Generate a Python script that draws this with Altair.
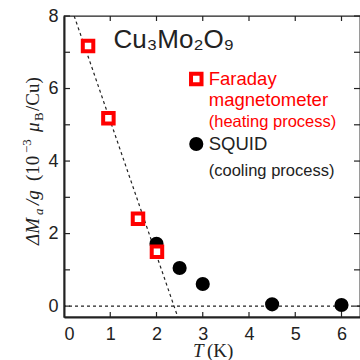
import altair as alt
import pandas as pd

# Data
far_T = [0.52, 0.96, 1.6, 2.01]
far_M = [7.17, 5.18, 2.41, 1.5]
sq_T = [2.0, 2.5, 3.0, 4.5, 6.0]
sq_M = [1.72, 1.05, 0.61, 0.05, 0.03]
fit_T = [0.22, 2.46]
fit_M = [8.0, -0.3]
x_ticks = [1, 2, 3, 4, 5, 6]
y_ticks = [0, 1, 2, 3, 4, 5, 6, 7, 8]

XD = [0, 6.4]
YD = [-0.3, 8]
W, H = 296, 301
RED = "#ff0000"
INK = "#222"
SANS = "Liberation Sans"
SERIF = "Liberation Serif"

xs = alt.Scale(domain=XD, nice=False, zero=False)
ys = alt.Scale(domain=YD, nice=False, zero=False)

far = pd.DataFrame({"T": far_T, "M": far_M})
sq = pd.DataFrame({"T": sq_T, "M": sq_M})
fit = pd.DataFrame({"T": fit_T, "M": fit_M})

xax = alt.Axis(values=[0, 1, 2, 3, 4, 5, 6], ticks=False, labelFont=SANS, labelFontSize=18,
               labelColor=INK, labelPadding=8, domainColor=INK, domainWidth=2,
               title=None, grid=False)
yax = alt.Axis(values=[0, 2, 4, 6, 8], ticks=False, labelFont=SANS, labelFontSize=18,
               labelColor=INK, labelPadding=6, domainColor=INK, domainWidth=2,
               title=None, grid=False)

base = alt.Chart(fit).mark_line(color=INK, strokeDash=[3, 3], strokeWidth=1.2, clip=True).encode(
    x=alt.X("T:Q", scale=xs, axis=xax),
    y=alt.Y("M:Q", scale=ys, axis=yax),
)

zero = alt.Chart(pd.DataFrame({"M": [0]})).mark_rule(color=INK, strokeDash=[3, 3], strokeWidth=1.2).encode(
    y=alt.Y("M:Q", scale=ys))

yt = pd.DataFrame({"M": y_ticks})
xt = pd.DataFrame({"T": x_ticks})
ytl = alt.Chart(yt).mark_rule(color=INK, strokeWidth=1.2).encode(
    y=alt.Y("M:Q", scale=ys), x=alt.value(0), x2=alt.value(6))
ytr = alt.Chart(yt).mark_rule(color=INK, strokeWidth=1.2).encode(
    y=alt.Y("M:Q", scale=ys), x=alt.value(W - 6), x2=alt.value(W))
xtb = alt.Chart(xt).mark_rule(color=INK, strokeWidth=1.2).encode(
    x=alt.X("T:Q", scale=xs), y=alt.value(H), y2=alt.value(H - 5))
xtt = alt.Chart(xt).mark_rule(color=INK, strokeWidth=1.2).encode(
    x=alt.X("T:Q", scale=xs), y=alt.value(0), y2=alt.value(5))

sqpts = alt.Chart(sq).mark_point(shape="circle", filled=True, color="black", size=200, opacity=1).encode(
    x=alt.X("T:Q", scale=xs), y=alt.Y("M:Q", scale=ys))
farpts = alt.Chart(far).mark_point(shape="square", filled=True, fill="white", stroke=RED,
                                   strokeWidth=4, size=110, opacity=1).encode(
    x=alt.X("T:Q", scale=xs), y=alt.Y("M:Q", scale=ys))

leg_sq = alt.Chart(pd.DataFrame({"T": [2.86], "M": [6.26]})).mark_point(
    shape="square", filled=True, fill="white", stroke=RED, strokeWidth=4, size=110, opacity=1).encode(
    x=alt.X("T:Q", scale=xs), y=alt.Y("M:Q", scale=ys))
leg_ci = alt.Chart(pd.DataFrame({"T": [2.86], "M": [4.47]})).mark_point(
    shape="circle", filled=True, color="black", size=200, opacity=1).encode(
    x=alt.X("T:Q", scale=xs), y=alt.Y("M:Q", scale=ys))

labels = pd.DataFrame({
    "T": [3.13, 3.13, 3.13, 3.13, 3.13],
    "M": [6.26, 5.68, 5.08, 4.47, 3.72],
    "txt": ["Faraday", "magnetometer", "(heating process)", "SQUID", "(cooling process)"],
    "col": [RED, RED, RED, INK, INK],
    "fs": [18.5, 18.5, 16.5, 18.5, 16.5],
})
leg_txt = alt.Chart(labels).mark_text(align="left", baseline="middle", font=SANS).encode(
    x=alt.X("T:Q", scale=xs), y=alt.Y("M:Q", scale=ys), text="txt:N",
    color=alt.Color("col:N", scale=None), size=alt.Size("fs:Q", scale=None))

title = alt.Chart(pd.DataFrame({"T": [1.07], "M": [7.33], "txt": ["Cu₃Mo₂O₉"]})).mark_text(
    align="left", baseline="middle", font=SANS, fontSize=26, color=INK).encode(
    x=alt.X("T:Q", scale=xs), y=alt.Y("M:Q", scale=ys), text="txt:N")

# Rotated y-axis title built from pieces (text, dx, dy, size, style)
ytitle_parts = [
    ("ΔM", 0, 0, 19, "italic"),
    ("a", 30, 4, 13, "italic"),
    ("/g", 40, 0, 19, "italic"),
    ("(10", 64, 0, 19, "normal"),
    ("−3", 92, -8, 13, "normal"),
    ("μ", 113, 0, 19, "italic"),
    ("B", 124, 4, 13, "normal"),
    ("/Cu)", 134, 0, 19, "normal"),
]
anchor = pd.DataFrame({"k": [0]})
ytitle_layers = [
    alt.Chart(anchor).mark_text(text=t, dx=dx, dy=dy, fontSize=fs, fontStyle=st, font=SERIF,
                                color=INK, angle=270, align="left", baseline="alphabetic").encode(
        x=alt.value(-25), y=alt.value(229))
    for (t, dx, dy, fs, st) in ytitle_parts
]

xtitle_parts = [
    ("T", 0, 19, "italic"),
    ("(K)", 14, 19, "normal"),
]
xtitle_layers = [
    alt.Chart(anchor).mark_text(text=t, dx=dx, fontSize=fs, fontStyle=st, font=SERIF,
                                color=INK, align="left", baseline="alphabetic").encode(
        x=alt.value(129), y=alt.value(341))
    for (t, dx, fs, st) in xtitle_parts
]

chart = alt.layer(base, zero, ytl, ytr, xtb, xtt, sqpts, farpts, leg_sq, leg_ci, leg_txt, title,
                  *ytitle_layers, *xtitle_layers).properties(
    width=W, height=H,
    autosize=alt.AutoSizeParams(type="none"),
    padding={"left": 64, "top": 16, "right": 0, "bottom": 43},
).configure_view(stroke=INK, strokeWidth=1.3)

chart.save("out.html", embed_options={"renderer": "svg", "actions": False})
